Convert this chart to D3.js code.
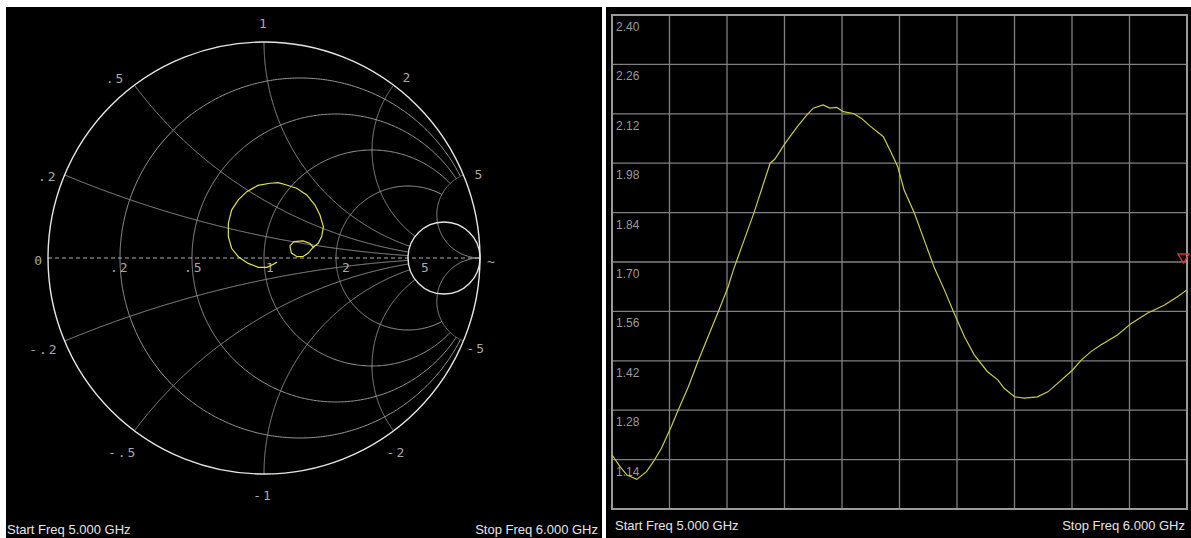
<!DOCTYPE html>
<html><head><meta charset="utf-8">
<script src="https://cdn.jsdelivr.net/npm/d3@7"></script>
<style>body{margin:0;background:#fff;} svg{display:block}</style>
</head><body>
<svg id="c" width="1191" height="538"></svg>
<script>
// ---------------- DATA ----------------
// Smith chart grid values
const resistanceCircles = [0.2, 0.5, 1, 2];      // truncated at |x| = 5
const reactanceArcs = [0.2, 0.5, 1, 2, -0.2, -0.5, -1, -2]; // truncated at r = 5
const brightResistance = 5;
const fullReactance = [5, -5];
const realAxisValues = [0.2, 0.5, 1, 2, 5];
const realAxisLabels = [".2", ".5", "1", "2", "5"];
const rimValues = [1, 0.5, 0.2, 2, 5, -0.2, -0.5, -1, -2, -5];
const rimLabels = ["1", ".5", ".2", "2", "5", "-.2", "-.5", "-1", "-2", "-5"];

const gammaRe = [0.060, 0.037, 0.014, -0.026, -0.073, -0.119, -0.150, -0.165, -0.165, -0.150, -0.119, -0.080, -0.028, 0.028, 0.066, 0.105, 0.151, 0.198, 0.236, 0.259, 0.275, 0.267, 0.251, 0.228, 0.205, 0.181, 0.153, 0.127, 0.120, 0.139, 0.181, 0.213, 0.231];
const gammaIm = [-0.019, -0.032, -0.043, -0.043, -0.025, 0.006, 0.045, 0.099, 0.161, 0.222, 0.269, 0.307, 0.336, 0.346, 0.349, 0.338, 0.323, 0.292, 0.245, 0.199, 0.145, 0.099, 0.068, 0.050, 0.023, 0.007, 0.006, 0.023, 0.056, 0.076, 0.079, 0.067, 0.046];

// SWR trace
const freqGHz = [5.000, 5.014, 5.026, 5.043, 5.060, 5.072, 5.086, 5.103, 5.115, 5.133, 5.150, 5.167, 5.185, 5.202, 5.211, 5.234, 5.247, 5.275, 5.283, 5.301, 5.322, 5.339, 5.350, 5.367, 5.379, 5.391, 5.402, 5.420, 5.434, 5.449, 5.472, 5.486, 5.497, 5.508, 5.526, 5.543, 5.561, 5.578, 5.595, 5.613, 5.630, 5.653, 5.671, 5.682, 5.700, 5.717, 5.740, 5.758, 5.775, 5.801, 5.816, 5.833, 5.850, 5.879, 5.903, 5.931, 5.961, 5.984, 6.000];
const swrValues = [1.153, 1.120, 1.096, 1.084, 1.106, 1.134, 1.172, 1.233, 1.280, 1.347, 1.420, 1.488, 1.560, 1.630, 1.677, 1.781, 1.840, 1.980, 1.991, 2.036, 2.083, 2.117, 2.136, 2.145, 2.136, 2.138, 2.126, 2.121, 2.107, 2.085, 2.055, 2.008, 1.970, 1.904, 1.838, 1.762, 1.682, 1.621, 1.555, 1.488, 1.437, 1.389, 1.366, 1.342, 1.318, 1.314, 1.318, 1.332, 1.356, 1.394, 1.422, 1.446, 1.465, 1.493, 1.526, 1.555, 1.578, 1.602, 1.621];
const yTickValues = [2.40, 2.26, 2.12, 1.98, 1.84, 1.70, 1.56, 1.42, 1.28, 1.14];
const yTickLabels = ["2.40", "2.26", "2.12", "1.98", "1.84", "1.70", "1.56", "1.42", "1.28", "1.14"];
const yDomain = [1.00, 2.40];
const xDomain = [5.0, 6.0];
const refLevel = 1.70;
const startLabel = "Start Freq 5.000 GHz";
const stopLabel = "Stop Freq 6.000 GHz";

// ---------------- DRAW ----------------
const svg = d3.select("#c");
const SANS = "'Liberation Sans', Arial, sans-serif";
const MONO = "'DejaVu Sans Mono', monospace";

// panels
svg.append("rect").attr("x", 6).attr("y", 7).attr("width", 596).attr("height", 531).attr("fill", "#000");
svg.append("rect").attr("x", 606).attr("y", 7).attr("width", 585).attr("height", 531).attr("fill", "#000");

// ---- Smith chart ----
const sx = d3.scaleLinear().domain([-1, 1]).range([48, 480]);
const sy = d3.scaleLinear().domain([-1, 1]).range([474, 42]);
function gamma(r, x) {
  const d = (r + 1) * (r + 1) + x * x;
  return [(r * r - 1 + x * x) / d, (2 * x) / d];
}
const sline = d3.line().x(p => sx(p[0])).y(p => sy(p[1]));
const g1 = svg.append("g");
const N = 700;

// resistance circles truncated at |x|<=5
resistanceCircles.forEach(r => {
  const pts = [];
  const umax = 5 / 6;
  for (let i = 0; i <= N; i++) {
    const u = -umax + 2 * umax * i / N;
    const x = u / (1 - Math.abs(u));
    pts.push(gamma(r, x));
  }
  g1.append("path").attr("d", sline(pts)).attr("fill", "none").attr("stroke", "#9a9a9a").attr("stroke-width", 1);
});
// reactance arcs truncated at r<=5
function reactPath(x, tmax) {
  const pts = [];
  for (let i = 0; i <= N; i++) {
    const t = tmax * i / N;
    const r = t / (1 - t);
    pts.push(gamma(r, x));
  }
  return pts;
}
reactanceArcs.forEach(x => {
  g1.append("path").attr("d", sline(reactPath(x, 5 / 6))).attr("fill", "none").attr("stroke", "#9a9a9a").attr("stroke-width", 1);
});
fullReactance.forEach(x => {
  const pts = reactPath(x, 0.9995); pts.push([1, 0]);
  g1.append("path").attr("d", sline(pts)).attr("fill", "none").attr("stroke", "#9a9a9a").attr("stroke-width", 1);
});
// dashed real axis
g1.append("line").attr("x1", sx(-1)).attr("x2", sx(1)).attr("y1", sy(0)).attr("y2", sy(0))
  .attr("stroke", "#b0b0b0").attr("stroke-width", 1).attr("stroke-dasharray", "4,3");
// bright circles: outer and r=5
g1.append("circle").attr("cx", sx(0)).attr("cy", sy(0)).attr("r", sx(1) - sx(0))
  .attr("fill", "none").attr("stroke", "#e6e6e6").attr("stroke-width", 1.4);
const c5 = brightResistance / (1 + brightResistance), r5 = 1 / (1 + brightResistance);
g1.append("circle").attr("cx", sx(c5)).attr("cy", sy(0)).attr("r", sx(r5) - sx(0))
  .attr("fill", "none").attr("stroke", "#e6e6e6").attr("stroke-width", 1.4);

// rim labels
const rimNudge = {
  "1": ["middle", 0, -14], ".5": ["end", -9, -2], ".2": ["end", -7, 6], "2": ["start", 9, -3], "5": ["start", 11, 4],
  "-.2": ["end", -6, 13], "-.5": ["end", 3, 26], "-1": ["middle", -1, 26], "-2": ["start", -7, 26], "-5": ["start", 3, 12]
};
rimValues.forEach((v, i) => {
  const p = gamma(0, v), lab = rimLabels[i], n = rimNudge[lab];
  g1.append("text").attr("x", sx(p[0]) + n[1]).attr("y", sy(p[1]) + n[2]).attr("text-anchor", n[0])
    .attr("font-family", MONO).attr("font-size", 13).attr("letter-spacing", 2).attr("fill", "#a8a8a8").text(lab);
});
g1.append("text").attr("x", sx(-1) - 6).attr("y", sy(0) + 7).attr("text-anchor", "end")
  .attr("font-family", MONO).attr("font-size", 13).attr("fill", "#a8a8a8").text("0");
g1.append("text").attr("x", sx(1) + 7).attr("y", sy(0) + 8).attr("text-anchor", "start")
  .attr("font-family", MONO).attr("font-size", 13).attr("fill", "#a8a8a8").text("~");
const realNudge = [-10, -8, 2, 6, 13];
realAxisValues.forEach((v, i) => {
  const p = gamma(v, 0);
  g1.append("text").attr("x", sx(p[0]) + realNudge[i]).attr("y", sy(0) + 14)
    .attr("font-family", MONO).attr("font-size", 13).attr("letter-spacing", 2).attr("fill", "#a8a8a8").text(realAxisLabels[i]);
});
// trace
const tracePts = gammaRe.map((re, i) => [re, gammaIm[i]]);
g1.append("path").attr("d", sline(tracePts)).attr("fill", "none").attr("stroke", "#e2e24a").attr("stroke-width", 1.2);

// left footer
svg.append("text").attr("x", 7).attr("y", 534).attr("font-family", SANS).attr("font-size", 13).attr("fill", "#e6e6e6").text(startLabel);
svg.append("text").attr("x", 598).attr("y", 534).attr("text-anchor", "end").attr("font-family", SANS).attr("font-size", 13).attr("fill", "#e6e6e6").text(stopLabel);

// ---- Rectangular SWR chart ----
const x = d3.scaleLinear().domain(xDomain).range([612, 1187]);
const y = d3.scaleLinear().domain(yDomain).range([509, 15]);
const g2 = svg.append("g");
g2.selectAll("line.v").data(x.ticks(10)).join("line")
  .attr("x1", d => x(d)).attr("x2", d => x(d)).attr("y1", y(yDomain[1])).attr("y2", y(yDomain[0]))
  .attr("stroke", "#808080").attr("stroke-width", 1.3);
g2.selectAll("line.h").data(d3.range(0, 11).map(k => yDomain[0] + k * 0.14)).join("line")
  .attr("x1", x(xDomain[0])).attr("x2", x(xDomain[1])).attr("y1", d => y(d)).attr("y2", d => y(d))
  .attr("stroke", "#808080").attr("stroke-width", 1.3);
g2.append("rect").attr("x", x(xDomain[0])).attr("y", y(yDomain[1])).attr("width", x(xDomain[1]) - x(xDomain[0]))
  .attr("height", y(yDomain[0]) - y(yDomain[1])).attr("fill", "none").attr("stroke", "#9a9a9a").attr("stroke-width", 2);
yTickValues.forEach((v, i) => {
  g2.append("text").attr("x", x(xDomain[0]) + 4).attr("y", y(v) + 16)
    .attr("font-family", SANS).attr("font-size", 12).attr("fill", "#9a9a9a").text(yTickLabels[i]);
});
const swrLine = d3.line().x((d, i) => x(freqGHz[i])).y(d => y(d));
g2.append("path").attr("d", swrLine(swrValues)).attr("fill", "none").attr("stroke", "#cccc44").attr("stroke-width", 1.2);
// reference marker
const mx = x(xDomain[1]), my = y(refLevel);
g2.append("path").attr("d", `M${mx - 9},${my - 8} L${mx + 2},${my - 8} L${mx - 3.5},${my + 1} Z`)
  .attr("fill", "none").attr("stroke", "#e03030").attr("stroke-width", 1.3);

svg.append("text").attr("x", 615).attr("y", 530).attr("font-family", SANS).attr("font-size", 13).attr("fill", "#e6e6e6").text(startLabel);
svg.append("text").attr("x", 1185).attr("y", 530).attr("text-anchor", "end").attr("font-family", SANS).attr("font-size", 13).attr("fill", "#e6e6e6").text(stopLabel);
</script>
</body></html>
